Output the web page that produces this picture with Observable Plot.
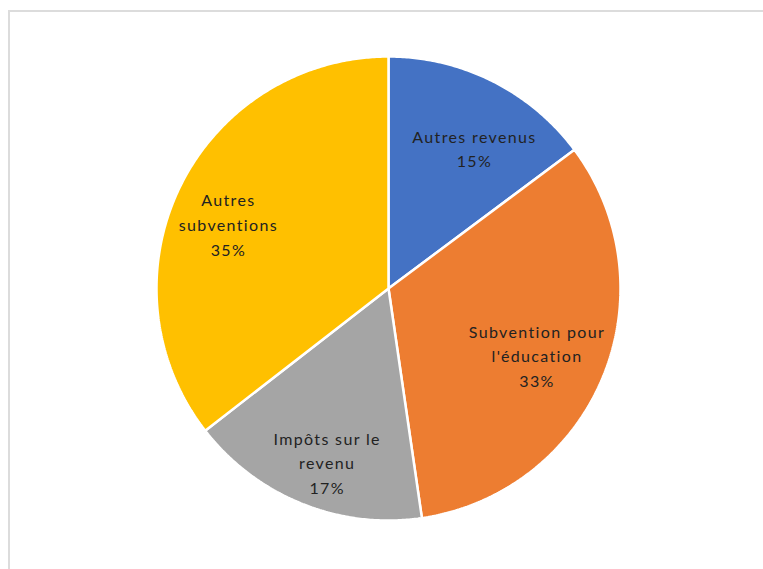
<!DOCTYPE html>
<html>
<head>
<meta charset="utf-8">
<script src="https://cdn.jsdelivr.net/npm/d3@7"></script>
<script src="https://cdn.jsdelivr.net/npm/@observablehq/plot@0.6"></script>
<style>
  html, body { margin: 0; padding: 0; background: #fff; }
  #wrap { position: relative; width: 763px; height: 569px; overflow: hidden; }
  #frame { position: absolute; left: 8px; top: 10px; right: -10px; bottom: -10px;
           border-left: 2px solid #dcdcdc; border-top: 2px solid #dcdcdc; }
  #chart { position: absolute; left: 0; top: 0; }
</style>
</head>
<body>
<div id="wrap"><div id="frame"></div><div id="chart"></div></div>
<script>
const categories = ["Autres revenus", "Subvention pour l'éducation", "Impôts sur le revenu", "Autres subventions"];
const labels = ["Autres revenus", "Subvention pour\nl'éducation", "Impôts sur le\nrevenu", "Autres\nsubventions"];
const values = [14.8, 32.9, 16.8, 35.5];
const percentLabels = ["15%", "33%", "17%", "35%"];
const colors = ["#4472C4", "#ED7D31", "#A5A5A5", "#FFC000"];

// layout: label radius (fraction of pie radius) and pixel nudges
const labelR = 0.73;
const labelNudge = [[10, 10], [-8, 1], [2, 16], [-8, 9]];
const pieRadiusPx = 232;

const arcs = d3.pie().sort(null).value(d => d)(values);

// sector outlines in unit-circle coordinates (angle from north, clockwise)
const sectors = [];
arcs.forEach((a, i) => {
  const cat = categories[i];
  sectors.push({cat, x: 0, y: 0});
  const n = Math.max(2, Math.ceil((a.endAngle - a.startAngle) / (Math.PI / 360)));
  for (let k = 0; k <= n; k++) {
    const t = a.startAngle + (a.endAngle - a.startAngle) * k / n;
    sectors.push({cat, x: Math.sin(t), y: Math.cos(t)});
  }
});

const labelData = arcs.map((a, i) => {
  const mid = (a.startAngle + a.endAngle) / 2;
  return {
    cat: categories[i],
    x: labelR * Math.sin(mid) + labelNudge[i][0] / pieRadiusPx,
    y: labelR * Math.cos(mid) - labelNudge[i][1] / pieRadiusPx,
    text: labels[i] + "\n" + percentLabels[i]
  };
});

const chart = Plot.plot({
  width: 763,
  height: 569,
  marginLeft: 388 - pieRadiusPx,
  marginRight: 763 - 388 - pieRadiusPx,
  marginTop: 288 - pieRadiusPx,
  marginBottom: 569 - 288 - pieRadiusPx,
  x: {domain: [-1, 1], axis: null},
  y: {domain: [-1, 1], axis: null},
  color: {domain: categories, range: colors},
  style: {background: "transparent", overflow: "visible"},
  marks: [
    Plot.line(sectors, {x: "x", y: "y", z: "cat", fill: "cat", stroke: "white",
      strokeWidth: 2.5, curve: "linear-closed", strokeLinejoin: "miter"}),
    Plot.text(labelData, {x: "x", y: "y", text: "text", fill: "#222222",
      fontSize: 16, lineHeight: 1.54, fontFamily: "Lato, 'Liberation Sans', sans-serif",
      stroke: null})
  ]
});
chart.querySelectorAll("text").forEach(t => t.style.letterSpacing = "1.35px");
document.getElementById("chart").appendChild(chart);
</script>
</body>
</html>
